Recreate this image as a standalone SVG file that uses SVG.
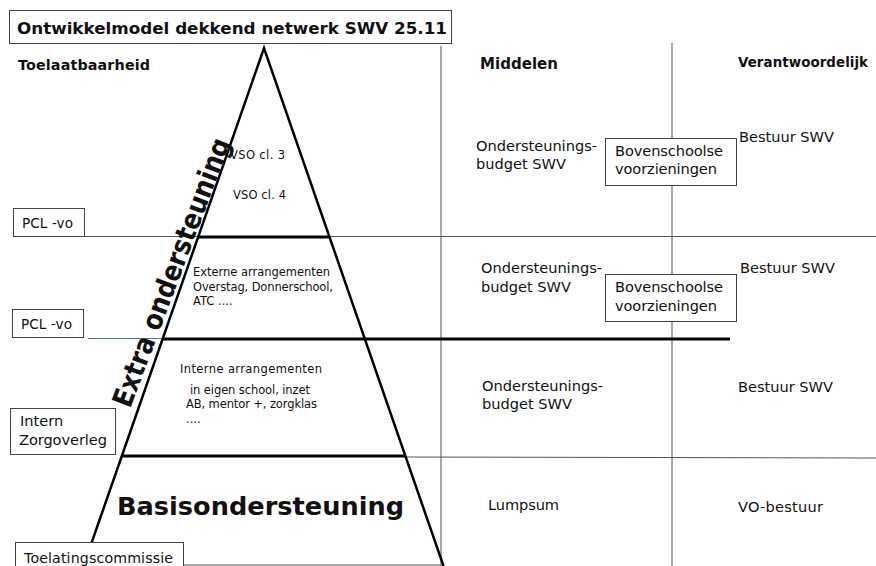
<svg xmlns="http://www.w3.org/2000/svg" width="876" height="566" viewBox="0 0 876 566">
<style>
text{font-family:"DejaVu Sans","Liberation Sans",sans-serif;fill:#111}
.b{font-weight:bold}
.m{font-size:14.6px}
.s{font-size:11.5px}
.box{fill:#fff;stroke:#444;stroke-width:1}
.thin{stroke:#555;stroke-width:1;fill:none}
.thick{stroke:#000;stroke-width:3;fill:none}
.edge{stroke:#000;stroke-width:2.5;fill:none}
</style>
<rect width="876" height="566" fill="#fff"/>
<g id="connectors">
<line class="thin" x1="441" y1="46" x2="441" y2="566"/>
<line class="thin" x1="672" y1="43" x2="672" y2="566"/>
<line class="thin" x1="80" y1="236.5" x2="876" y2="236.5"/>
<line class="thin" x1="405" y1="457" x2="876" y2="458"/>
<line x1="88" y1="338.5" x2="163" y2="338.5" stroke="#4a72a8" stroke-width="1"/>
<line class="thin" x1="183" y1="565" x2="441" y2="565"/>
<line class="thick" x1="198" y1="237" x2="329" y2="237"/>
<line class="thick" x1="162" y1="339" x2="730" y2="339"/>
<line class="thick" x1="122" y1="456" x2="405" y2="456"/>
<polyline class="edge" points="83.5,566 264,48 443.5,566"/>
</g>
<g id="title">
<rect class="box" x="9.5" y="10.5" width="442" height="33"/>
<text class="b" x="17" y="34" font-size="16.7" textLength="430" lengthAdjust="spacingAndGlyphs">Ontwikkelmodel dekkend netwerk SWV 25.11</text>
</g>
<g id="headers">
<text class="b" x="18" y="70" font-size="14.3" textLength="132">Toelaatbaarheid</text>
<text class="b" x="480" y="69" font-size="15" textLength="78">Middelen</text>
<text class="b" x="738" y="67" font-size="13.4" textLength="130">Verantwoordelijk</text>
</g>
<g id="extra">
<text class="b" transform="translate(130,409) rotate(-69.3)" font-size="28" textLength="285" lengthAdjust="spacingAndGlyphs">Extra ondersteuning</text>
</g>
<g id="level1">
<text class="s" x="230" y="159" textLength="55">VSO cl. 3</text>
<text class="s" x="233" y="199" textLength="53">VSO cl. 4</text>
</g>
<g id="level2">
<text class="s" x="193" y="275.5" textLength="137">Externe arrangementen</text>
<text class="s" x="193" y="290.5" textLength="140">Overstag, Donnerschool,</text>
<text class="s" x="193" y="305">ATC ....</text>
</g>
<g id="level3">
<text class="s" x="180" y="373" textLength="142">Interne arrangementen</text>
<text class="s" x="190" y="394" textLength="120">in eigen school, inzet</text>
<text class="s" x="186" y="408" textLength="131">AB, mentor +, zorgklas</text>
<text class="s" x="186" y="423">....</text>
</g>
<g id="level4">
<text class="b" x="117" y="515" font-size="25.6" textLength="287">Basisondersteuning</text>
</g>
<g id="pcl1">
<rect class="box" x="13.5" y="208.5" width="71" height="28"/>
<text class="m" x="22" y="228" style="font-size:13.6px" textLength="51">PCL -vo</text>
</g>
<g id="pcl2">
<rect class="box" x="12.5" y="309.5" width="71" height="28"/>
<text class="m" x="21" y="329" style="font-size:13.6px" textLength="51">PCL -vo</text>
</g>
<g id="intern">
<rect class="box" x="10.5" y="408.5" width="105" height="46"/>
<text class="m" x="20" y="425.5">Intern</text>
<text class="m" x="19" y="445" textLength="88">Zorgoverleg</text>
</g>
<g id="toelating">
<rect class="box" x="15.5" y="542.5" width="168" height="30"/>
<text class="m" x="24" y="563" style="font-size:14.2px" textLength="149">Toelatingscommissie</text>
</g>
<g id="middelen1">
<text class="m" x="476" y="151" textLength="121">Ondersteunings-</text>
<text class="m" x="476" y="169" textLength="90">budget SWV</text>
</g>
<g id="middelen2">
<text class="m" x="481" y="273" textLength="121">Ondersteunings-</text>
<text class="m" x="481" y="292" textLength="90">budget SWV</text>
</g>
<g id="middelen3">
<text class="m" x="482" y="391" textLength="121">Ondersteunings-</text>
<text class="m" x="482" y="409" textLength="90">budget SWV</text>
</g>
<g id="lumpsum">
<text class="m" x="488" y="510" textLength="71">Lumpsum</text>
</g>
<g id="bovenschools1">
<rect class="box" x="605.5" y="138.5" width="131" height="47"/>
<text class="m" x="615" y="156" textLength="108">Bovenschoolse</text>
<text class="m" x="615" y="174" textLength="102">voorzieningen</text>
</g>
<g id="bovenschools2">
<rect class="box" x="605.5" y="274.5" width="131" height="47"/>
<text class="m" x="615" y="292" textLength="108">Bovenschoolse</text>
<text class="m" x="615" y="311" textLength="102">voorzieningen</text>
</g>
<g id="verantw1"><text class="m" x="739" y="141.5" textLength="95">Bestuur SWV</text></g>
<g id="verantw2"><text class="m" x="740" y="273" textLength="95">Bestuur SWV</text></g>
<g id="verantw3"><text class="m" x="738" y="392" textLength="95">Bestuur SWV</text></g>
<g id="verantw4"><text class="m" x="738" y="512" textLength="85">VO-bestuur</text></g>
</svg>
